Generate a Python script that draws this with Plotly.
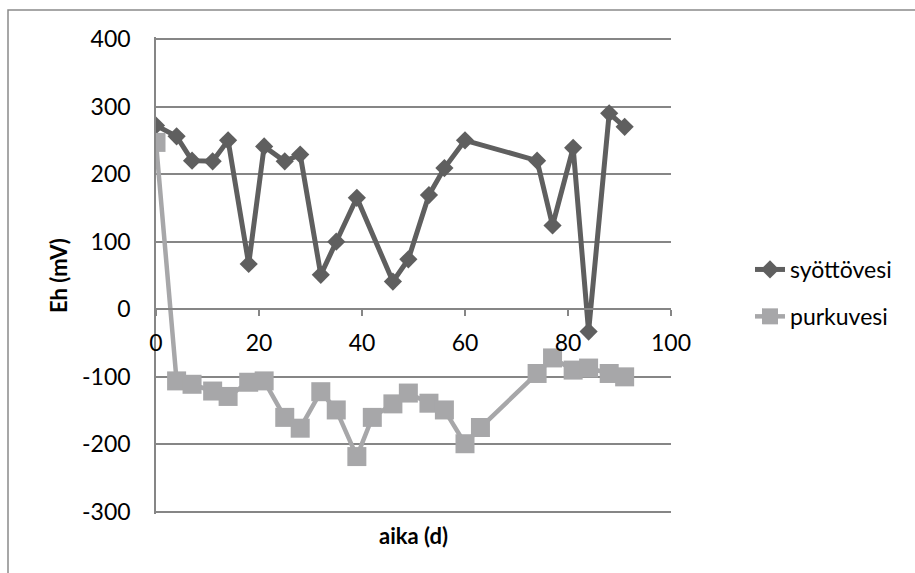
import plotly.graph_objects as go

days = [0, 4, 7, 11, 14, 18, 21, 25, 28, 32, 35, 39, 42, 46, 49, 53, 56, 60, 63, 74, 77, 81, 84, 88, 91]
syottovesi = [272, 256, 220, 219, 250, 67, 241, 219, 229, 51, 100, 165, None, 41, 74, 169, 209, 250, None, 220, 124, 239, -33, 290, 270]
purkuvesi = [247, -106, -111, -121, -129, -108, -106, -160, -176, -122, -149, -218, -160, -140, -124, -139, -149, -199, -175, -95, -72, -90, -87, -95, -100]

x_ticks = [0, 20, 40, 60, 80, 100]
y_ticks = [-300, -200, -100, 0, 100, 200, 300, 400]
y_ticktext = ["-300", "-200", "-100", "0", "100", "200", "300", "400"]

FONT = "Lato"
GRID = "#868686"
DARK = "#5f5f5f"
LIGHT = "#a7a7a9"

fig = go.Figure()
fig.add_trace(go.Scatter(
    x=days, y=syottovesi, name="syöttövesi", mode="lines+markers",
    connectgaps=True, legendgroup="a",
    line=dict(color=DARK, width=5),
    marker=dict(symbol="diamond", size=14, color=DARK, line=dict(width=0)),
))
fig.add_trace(go.Scatter(
    x=days, y=purkuvesi, name="purkuvesi", mode="lines+markers",
    connectgaps=True, legendgroup="b",
    line=dict(color=LIGHT, width=4.5),
    marker=dict(symbol="square", size=19, color=LIGHT, line=dict(width=0)),
))

ymin, ymax = -300, 400
pad = 3
zero_pos = (0 - (ymin - pad)) / (ymax - ymin + 2 * pad)

fig.update_layout(
    width=915, height=573,
    margin=dict(l=156, r=244, t=37, b=59),
    paper_bgcolor="white", plot_bgcolor="white",
    font=dict(family=FONT, size=23, color="#000000"),
    xaxis=dict(
        range=[0, 100], tickvals=x_ticks, showgrid=False, zeroline=False,
        showline=True, linecolor=GRID, linewidth=1.5,
        anchor="free", position=zero_pos,
        ticks="outside", ticklen=6, tickcolor=GRID, tickwidth=1.5,
        ticklabelstandoff=7,
    ),
    xaxis2=dict(
        range=[0, 100], tickvals=x_ticks, showgrid=False, zeroline=False,
        showline=False, overlaying="x", anchor="free", position=zero_pos,
        ticks="inside", ticklen=6, tickcolor=GRID, tickwidth=1.5,
        showticklabels=False,
    ),
    yaxis=dict(
        range=[ymin - pad, ymax + pad], tickvals=y_ticks, ticktext=y_ticktext,
        showgrid=True, gridcolor=GRID,
        gridwidth=1.5, zeroline=False, showline=True, linecolor=GRID,
        linewidth=1.5, ticks="", ticklabelstandoff=19,
    ),
    legend=dict(
        x=(750 - 156) / 515, y=(514 - 248) / 477, xanchor="left", yanchor="top",
        tracegroupgap=14, bgcolor="rgba(0,0,0,0)",
        font=dict(family=FONT, size=23),
    ),
    showlegend=True,
    annotations=[
        dict(text="<b>aika (d)</b>", xref="paper", yref="paper",
             x=0.5, y=(514 - 535) / 477, xanchor="center", yanchor="middle",
             showarrow=False, font=dict(family=FONT, size=22)),
        dict(text="<b>Eh (mV)</b>", xref="paper", yref="paper",
             x=(58 - 156) / 515, y=(514 - 276) / 477, xanchor="center", yanchor="middle",
             textangle=-90, showarrow=False, font=dict(family=FONT, size=22)),
    ],
    shapes=[
        dict(type="rect", xref="paper", yref="paper",
             x0=(8 - 156) / 515, x1=2.0, y0=-1.0, y1=(514 - 10) / 477,
             line=dict(color="#8a8a8a", width=1.5), fillcolor="rgba(0,0,0,0)",
             layer="below"),
    ],
)

fig.write_html("out.html")
